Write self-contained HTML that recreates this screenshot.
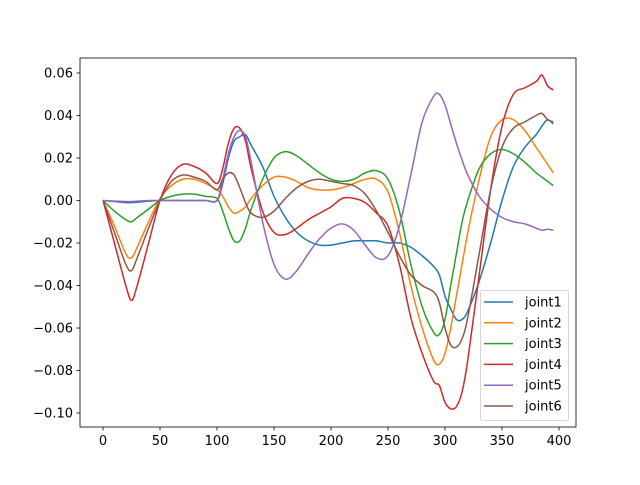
<!DOCTYPE html>
<html><head><meta charset="utf-8"><style>
body{margin:0;background:#fff}
svg{font-family:"DejaVu Sans","Liberation Sans",sans-serif}
</style></head><body>
<svg id="c" width="640" height="480" xmlns="http://www.w3.org/2000/svg"></svg>
<script>
const xs=[0,10,20,25,30,40,50,60,70,80,90,100,105,110,115,120,125,130,140,150,160,170,180,190,200,210,220,230,240,250,260,270,280,290,295,300,305,310,315,320,330,340,350,360,370,380,385,390,395];
const joint1=[0,-0.0005,-0.001,-0.001,-0.0008,-0.0003,0,0,0,0,0,0,0.008,0.02,0.028,0.03,0.031,0.026,0.016,0.002,-0.008,-0.015,-0.019,-0.021,-0.021,-0.02,-0.019,-0.019,-0.019,-0.02,-0.02,-0.022,-0.026,-0.031,-0.035,-0.045,-0.051,-0.056,-0.056,-0.052,-0.038,-0.02,0,0.016,0.025,0.031,0.035,0.038,0.036];
const joint2=[0,-0.012,-0.025,-0.027,-0.022,-0.01,0.001,0.007,0.01,0.01,0.008,0.005,0.002,-0.003,-0.006,-0.005,-0.003,0.001,0.007,0.011,0.011,0.009,0.006,0.005,0.005,0.006,0.008,0.01,0.01,0.004,-0.015,-0.04,-0.06,-0.075,-0.077,-0.072,-0.06,-0.045,-0.03,-0.015,0.01,0.03,0.038,0.038,0.033,0.025,0.021,0.017,0.013];
const joint3=[0,-0.005,-0.009,-0.01,-0.008,-0.004,0,0.002,0.003,0.003,0.002,0.001,-0.005,-0.013,-0.019,-0.019,-0.013,-0.004,0.01,0.02,0.023,0.021,0.017,0.013,0.01,0.009,0.01,0.013,0.014,0.01,-0.005,-0.03,-0.05,-0.062,-0.063,-0.056,-0.04,-0.025,-0.01,0,0.015,0.022,0.024,0.022,0.018,0.013,0.011,0.009,0.007];
const joint4=[0,-0.02,-0.04,-0.047,-0.04,-0.02,0,0.012,0.017,0.016,0.013,0.008,0.015,0.027,0.034,0.034,0.028,0.015,-0.005,-0.015,-0.016,-0.013,-0.009,-0.006,-0.003,0.001,0.001,-0.001,-0.006,-0.012,-0.03,-0.055,-0.072,-0.085,-0.087,-0.095,-0.098,-0.097,-0.09,-0.075,-0.035,0.005,0.035,0.05,0.053,0.056,0.059,0.054,0.052];
const joint5=[0,-0.0003,-0.0005,-0.0005,-0.0003,0,0,0,0,0,0,0,0.01,0.022,0.03,0.033,0.03,0.018,-0.01,-0.03,-0.037,-0.033,-0.025,-0.018,-0.013,-0.011,-0.014,-0.021,-0.027,-0.026,-0.012,0.012,0.037,0.049,0.05,0.045,0.036,0.027,0.019,0.012,0.002,-0.004,-0.008,-0.01,-0.011,-0.013,-0.014,-0.0135,-0.014];
const joint6=[0,-0.015,-0.03,-0.033,-0.027,-0.013,0,0.009,0.012,0.011,0.009,0.005,0.01,0.013,0.012,0.006,-0.001,-0.006,-0.008,-0.005,0.001,0.006,0.009,0.01,0.009,0.008,0.007,0.003,-0.005,-0.015,-0.026,-0.035,-0.04,-0.043,-0.048,-0.06,-0.068,-0.069,-0.065,-0.055,-0.025,0.005,0.025,0.034,0.037,0.04,0.041,0.038,0.037];
const seriesNames=["joint1","joint2","joint3","joint4","joint5","joint6"];
const seriesData=[joint1,joint2,joint3,joint4,joint5,joint6];
const xTicks=[0,50,100,150,200,250,300,350,400];
const yTicks=[0.06,0.04,0.02,0,-0.02,-0.04,-0.06,-0.08,-0.10];
const yTickLabels=["0.06","0.04","0.02","0.00","−0.02","−0.04","−0.06","−0.08","−0.10"];

const colors=["#1f77b4","#ff7f0e","#2ca02c","#d62728","#9467bd","#8c564b"];
const L=80,R=576,T=58,B=427;
const sx=v=>103+v*1.14;
const sy=v=>200.5-v*2125;
const svg=document.getElementById('c');
const NS="http://www.w3.org/2000/svg";
function mk(tag,attrs,parent){const e=document.createElementNS(NS,tag);for(const k in attrs)e.setAttribute(k,attrs[k]);(parent||svg).appendChild(e);return e;}
function smoothPath(pts){
  let d='M'+pts[0][0].toFixed(2)+','+pts[0][1].toFixed(2);
  for(let i=0;i<pts.length-1;i++){
    const p0=pts[Math.max(0,i-1)],p1=pts[i],p2=pts[i+1],p3=pts[Math.min(pts.length-1,i+2)];
    const c1x=p1[0]+(p2[0]-p0[0])/6,c1y=p1[1]+(p2[1]-p0[1])/6;
    const c2x=p2[0]-(p3[0]-p1[0])/6,c2y=p2[1]-(p3[1]-p1[1])/6;
    d+=' C'+c1x.toFixed(2)+','+c1y.toFixed(2)+' '+c2x.toFixed(2)+','+c2y.toFixed(2)+' '+p2[0].toFixed(2)+','+p2[1].toFixed(2);
  }
  return d;
}
const clip=mk('clipPath',{id:'clp'});
mk('rect',{x:L,y:T,width:R-L,height:B-T},clip);
seriesData.forEach((d,i)=>{
  const pts=d.map((v,j)=>[sx(xs[j]),sy(v)]);
  const p=mk('path',{d:smoothPath(pts),fill:'none',stroke:colors[i],'stroke-width':1.5,'stroke-linejoin':'round','clip-path':'url(#clp)'});
  
  
});
const fr=mk('rect',{x:L,y:T,width:R-L,height:B-T,fill:'none',stroke:'#000','stroke-width':0.8});


xTicks.forEach(t=>{
  const x=sx(t);
  const tk=mk('line',{x1:x,x2:x,y1:B,y2:B+3.5,stroke:'#000','stroke-width':0.8});
  
  
  const tx=mk('text',{x:x,y:B+18,'text-anchor':'middle','font-size':13});
  tx.textContent=t;
  
  
});
yTicks.forEach((t,i)=>{
  const y=sy(t);
  const tk=mk('line',{x1:L-3.5,x2:L,y1:y,y2:y,stroke:'#000','stroke-width':0.8});
  
  
  const tx=mk('text',{x:L-7,y:y+4.5,'text-anchor':'end','font-size':13});
  tx.textContent=yTickLabels[i];
  
  
});
const lg=mk('g',{});


mk('rect',{x:480.5,y:290.5,width:88,height:130,rx:2,fill:'#fff','fill-opacity':0.8,stroke:'#ccc','stroke-width':0.8},lg);
seriesNames.forEach((n,i)=>{
  const y=302+i*20.8;
  const g=mk('g',{},lg);
  
  
  mk('line',{x1:484,x2:513,y1:y,y2:y,stroke:colors[i],'stroke-width':1.5},g);
  const t=mk('text',{x:525,y:y+4.5,'font-size':13},g);
  t.textContent=n;
});
</script>
</body></html>
